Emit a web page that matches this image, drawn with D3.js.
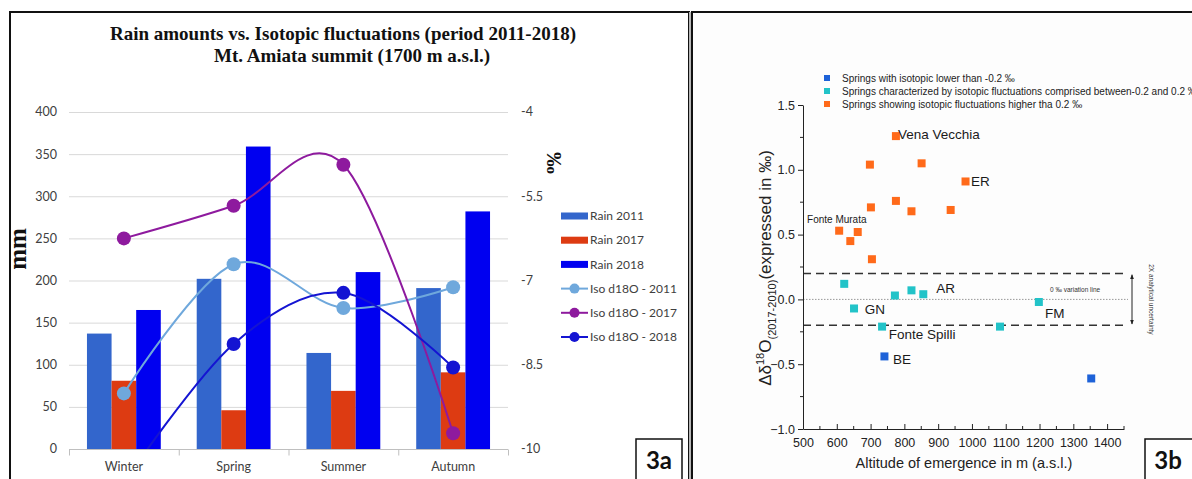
<!DOCTYPE html>
<html>
<head>
<meta http-equiv='Content-Type' content='text/html; charset=UTF-8' />
<title>Rain amounts vs. Isotopic fluctuations</title>
<script src="https://d3js.org/d3.v7.min.js"></script>
<style>
  body { margin: 0; background: #fff; }
  svg { display: block; }
</style>
</head>
<body>
<svg id="fig" width="1192" height="479"></svg>
<script>
// ---- panel 3a data
var seasons = ["Winter", "Spring", "Summer", "Autumn"];
var rain2011 = [137, 202, 114, 191];
var rain2017 = [81, 46, 69, 91];
var rain2018 = [165, 359, 210, 282];
var iso2011 = [-9.01, -6.71, -7.49, -7.12];
var iso2017 = [-6.25, -5.67, -4.94, -9.72];
var iso2018 = [-10.6, -8.13, -7.22, -8.55];
var mmTicks = [0, 50, 100, 150, 200, 250, 300, 350, 400];
var permilTicks = [-4, -5.5, -7, -8.5, -10];

// ---- panel 3b data: [altitude m, delta d18O]
var springsLow = [[741, -0.44], [1353, -0.61]];
var springsMid = [[622, 0.12], [651, -0.07], [772, 0.03], [821, 0.07], [856, 0.04],
                  [734, -0.21], [1083, -0.21], [1198, -0.02]];
var springsHigh = [[775, 1.26], [698, 1.04], [851, 1.05], [981, 0.91], [701, 0.71],
                   [775, 0.76], [821, 0.68], [937, 0.69], [607, 0.53], [640, 0.45],
                   [662, 0.52], [704, 0.31]];
var springNames = [["Vena Vecchia", 781, 1.238], ["ER", 997, 0.875], ["AR", 894, 0.05],
                   ["GN", 683, -0.113], ["FM", 1216, -0.143], ["Fonte Spilli", 754, -0.306],
                   ["BE", 766, -0.5]];
var smallNames = [["Fonte Murata", 512, 0.59]];
var altTicks = [500, 600, 700, 800, 900, 1000, 1100, 1200, 1300, 1400];
var deltaTicks = [-1.0, -0.5, 0.0, 0.5, 1.0, 1.5];
var legendB = ["Springs with isotopic lower than -0.2 \u2030",
               "Springs characterized by isotopic fluctuations comprised between-0.2 and 0.2 \u2030",
               "Springs showing isotopic fluctuations higher tha 0.2 \u2030"];

var svg = d3.select("#fig");

// panel frames
svg.append("rect").attr("x", 10).attr("y", 12).attr("width", 679).attr("height", 480)
  .attr("fill", "#fff").attr("stroke", "#111").attr("stroke-width", 2);
svg.append("rect").attr("x", 689).attr("y", 12).attr("width", 3).attr("height", 467).attr("fill", "#b8b8b8");
svg.append("rect").attr("x", 692).attr("y", 12).attr("width", 520).attr("height", 480)
  .attr("fill", "#fdfdfd").attr("stroke", "#111").attr("stroke-width", 2);

// ================= panel 3a =================
var a = svg.append("g");
var x = d3.scaleBand().domain(seasons).range([69, 508]);
var rainKeys = ["Rain 2011", "Rain 2017", "Rain 2018"];
var rainData = [rain2011, rain2017, rain2018];
var rainColors = ["#3366cc", "#dd3b12", "#0000f0"];
var xi = d3.scaleBand().domain(rainKeys).range([0, x.bandwidth()]).paddingOuter(0.73);
var yL = d3.scaleLinear().domain([0, 400]).range([449, 112]);
var yR = d3.scaleLinear().domain([-10, -4]).range([449, 112]);

a.append("text").attr("x", 343).attr("y", 40).attr("text-anchor", "middle")
  .attr("font-family", "Liberation Serif, Times New Roman, serif").attr("font-weight", "bold")
  .attr("font-size", 19).attr("fill", "#111")
  .text("Rain amounts vs. Isotopic fluctuations (period 2011-2018)");
a.append("text").attr("x", 352).attr("y", 62).attr("text-anchor", "middle")
  .attr("font-family", "Liberation Serif, Times New Roman, serif").attr("font-weight", "bold")
  .attr("font-size", 19).attr("fill", "#111")
  .text("Mt. Amiata summit (1700 m a.s.l.)");

// gridlines
a.append("g").selectAll("line").data(mmTicks.slice(1)).enter().append("line")
  .attr("x1", 69).attr("x2", 508)
  .attr("y1", function(d){ return yL(d) + 0.5; }).attr("y2", function(d){ return yL(d) + 0.5; })
  .attr("stroke", "#d9d9d9").attr("stroke-width", 1);

// left axis labels
a.append("g").selectAll("text").data(mmTicks).enter().append("text")
  .attr("x", 57).attr("y", function(d){ return yL(d); }).attr("dy", "0.35em")
  .attr("text-anchor", "end").attr("font-family", "Lato, sans-serif").attr("font-size", 12.5)
  .attr("fill", "#404040").text(function(d){ return d; });
// right axis labels
a.append("g").selectAll("text").data(permilTicks).enter().append("text")
  .attr("x", 521).attr("y", function(d){ return yR(d); }).attr("dy", "0.35em")
  .attr("text-anchor", "start").attr("font-family", "Lato, sans-serif").attr("font-size", 12.5)
  .attr("fill", "#404040").text(function(d){ return d; });

// bars
rainData.forEach(function(vals, k){
  a.append("g").attr("fill", rainColors[k]).selectAll("rect").data(vals).enter().append("rect")
    .attr("x", function(d, i){ return x(seasons[i]) + xi(rainKeys[k]); })
    .attr("width", xi.bandwidth())
    .attr("y", function(d){ return yL(d); })
    .attr("height", function(d){ return yL(0) - yL(d); });
});

// x axis
var xAxis = a.append("g").attr("transform", "translate(0,449.5)");
xAxis.append("line").attr("x1", 69).attr("x2", 508).attr("stroke", "#bfbfbf");
xAxis.selectAll("line.tk").data(seasons.concat(["end"])).enter().append("line")
  .attr("class", "tk")
  .attr("x1", function(d, i){ return 69 + i * x.step() + 0.5; })
  .attr("x2", function(d, i){ return 69 + i * x.step() + 0.5; })
  .attr("y1", 0).attr("y2", 6).attr("stroke", "#bfbfbf");
xAxis.selectAll("text").data(seasons).enter().append("text")
  .attr("x", function(d){ return x(d) + x.bandwidth() / 2; }).attr("y", 21)
  .attr("text-anchor", "middle").attr("font-family", "Lato, sans-serif").attr("font-size", 12.5)
  .attr("fill", "#404040").text(function(d){ return d; });

// iso lines
a.append("clipPath").attr("id", "plotA").append("rect")
  .attr("x", 69).attr("y", 100).attr("width", 439).attr("height", 349);
var isoKeys = ["Iso d18O - 2011", "Iso d18O - 2017", "Iso d18O - 2018"];
var isoData = [iso2011, iso2017, iso2018];
var isoColors = ["#6fa8dc", "#8e1a9e", "#1414d2"];
var line = d3.line()
  .x(function(d, i){ return x(seasons[i]) + x.bandwidth() / 2; })
  .y(function(d){ return yR(d); })
  .curve(d3.curveCardinal.tension(0));
var lines = a.append("g").attr("clip-path", "url(#plotA)");
isoData.forEach(function(vals, k){
  lines.append("path").datum(vals).attr("d", line)
    .attr("fill", "none").attr("stroke", isoColors[k]).attr("stroke-width", 2);
  lines.append("g").selectAll("circle").data(vals).enter().append("circle")
    .attr("cx", function(d, i){ return x(seasons[i]) + x.bandwidth() / 2; })
    .attr("cy", function(d){ return yR(d); })
    .attr("r", 7).attr("fill", isoColors[k]);
});

// axis titles
a.append("text").attr("transform", "translate(26,249) rotate(-90)").attr("text-anchor", "middle")
  .attr("font-family", "Liberation Serif, Times New Roman, serif").attr("font-weight", "bold")
  .attr("font-size", 25).attr("fill", "#111").text("mm");
a.append("text").attr("transform", "translate(547,163) rotate(90)").attr("text-anchor", "middle")
  .attr("font-family", "Liberation Serif, Times New Roman, serif").attr("font-weight", "bold")
  .attr("font-size", 22).attr("fill", "#111").text("\u2030");

// legend
var legA = a.append("g").attr("font-family", "Lato, sans-serif").attr("font-size", 12).attr("fill", "#404040");
var legItems = rainKeys.concat(isoKeys);
legItems.forEach(function(name, i){
  var g = legA.append("g").attr("transform", "translate(561," + (216 + i * 24.2) + ")");
  if (i < 3) {
    g.append("rect").attr("x", 0).attr("y", -3.5).attr("width", 27).attr("height", 7).attr("fill", rainColors[i]);
  } else {
    g.append("line").attr("x1", 0).attr("x2", 27).attr("stroke", isoColors[i - 3]).attr("stroke-width", 2);
    g.append("circle").attr("cx", 13.5).attr("r", 5).attr("fill", isoColors[i - 3]);
  }
  g.append("text").attr("x", 29).attr("dy", "0.35em").text(name);
});

// 3a label box
a.append("rect").attr("x", 636).attr("y", 439).attr("width", 46).attr("height", 50)
  .attr("fill", "#fff").attr("stroke", "#111").attr("stroke-width", 1.5);
a.append("text").attr("x", 659).attr("y", 469).attr("text-anchor", "middle")
  .attr("font-family", "Lato, sans-serif").attr("font-weight", "bold").attr("font-size", 24)
  .attr("fill", "#111").text("3a");

// ================= panel 3b =================
var b = svg.append("g");
var xb = d3.scaleLinear().domain([500, 1450]).range([803, 1124]);
var yb = d3.scaleLinear().domain([-1, 1.5]).range([429, 105]);
var cLow = "#1e62d8", cMid = "#22c3c8", cHigh = "#ff6a1a";

// reference lines
b.append("g").selectAll("line").data([0.2, -0.2]).enter().append("line")
  .attr("x1", 803).attr("x2", 1128)
  .attr("y1", function(d){ return yb(d); }).attr("y2", function(d){ return yb(d); })
  .attr("stroke", "#333").attr("stroke-width", 1.6).attr("stroke-dasharray", "8,5");
b.append("line").attr("x1", 803).attr("x2", 1128).attr("y1", yb(0)).attr("y2", yb(0))
  .attr("stroke", "#999").attr("stroke-width", 1).attr("stroke-dasharray", "1.5,1.5");

// axes
var yAx = b.append("g").attr("transform", "translate(803,0)")
  .call(d3.axisLeft(yb).tickValues(deltaTicks).tickFormat(d3.format(".1f")).tickSize(5).tickPadding(3));
yAx.append("g").selectAll("line").data([-0.75, -0.25, 0.25, 0.75, 1.25]).enter().append("line")
  .attr("x2", -3).attr("y1", function(d){ return yb(d); }).attr("y2", function(d){ return yb(d); })
  .attr("stroke", "#222");
var xAx = b.append("g").attr("transform", "translate(0,429)")
  .call(d3.axisBottom(xb).tickValues(altTicks).tickFormat(d3.format("d")).tickSize(-5).tickPadding(9));
xAx.append("g").selectAll("line").data(d3.range(550, 1451, 100)).enter().append("line")
  .attr("y2", -3).attr("x1", function(d){ return xb(d); }).attr("x2", function(d){ return xb(d); })
  .attr("stroke", "#222");
[yAx, xAx].forEach(function(g){
  g.selectAll("path, line").attr("stroke", "#222");
  g.selectAll("text").attr("font-family", "Liberation Sans, Arial, sans-serif")
    .attr("font-size", 12.5).attr("fill", "#222");
});
xAx.select(".domain").attr("d", "M803.5,0.5H1124.5");
yAx.select(".domain").attr("d", "M0.5,429.5V105.5");

// points
function squares(data, color, s){
  b.append("g").selectAll("rect").data(data).enter().append("rect")
    .attr("x", function(d){ return xb(d[0]) - s / 2; })
    .attr("y", function(d){ return yb(d[1]) - s / 2; })
    .attr("width", s).attr("height", s).attr("fill", color);
}
squares(springsHigh, cHigh, 8);
squares(springsMid, cMid, 8);
squares(springsLow, cLow, 8);

// point labels
b.append("g").selectAll("text").data(springNames).enter().append("text")
  .attr("x", function(d){ return xb(d[1]); }).attr("y", function(d){ return yb(d[2]); })
  .attr("font-family", "Liberation Sans, Arial, sans-serif").attr("font-size", 13.5)
  .attr("fill", "#1a1a1a").text(function(d){ return d[0]; });
b.append("g").selectAll("text").data(smallNames).enter().append("text")
  .attr("x", function(d){ return xb(d[1]); }).attr("y", function(d){ return yb(d[2]); })
  .attr("font-family", "Liberation Sans, Arial, sans-serif").attr("font-size", 10)
  .attr("fill", "#1a1a1a").text(function(d){ return d[0]; });

// variation line note, uncertainty arrow
b.append("text").attr("x", 1050).attr("y", yb(0) - 7)
  .attr("font-family", "Liberation Sans, Arial, sans-serif").attr("font-size", 6.5)
  .attr("fill", "#333").text("0 \u2030 variation line");
b.append("defs").append("marker").attr("id", "ah").attr("viewBox", "0 0 10 10")
  .attr("refX", 9).attr("refY", 5).attr("markerWidth", 5).attr("markerHeight", 6)
  .attr("orient", "auto-start-reverse")
  .append("path").attr("d", "M0,1L10,5L0,9z").attr("fill", "#222");
b.append("line").attr("x1", 1132).attr("x2", 1132).attr("y1", yb(0.19)).attr("y2", yb(-0.19))
  .attr("stroke", "#222").attr("stroke-width", 1)
  .attr("marker-start", "url(#ah)").attr("marker-end", "url(#ah)");
b.append("text").attr("transform", "translate(1149," + yb(0) + ") rotate(90)").attr("text-anchor", "middle")
  .attr("font-family", "Liberation Sans, Arial, sans-serif").attr("font-size", 6.5)
  .attr("fill", "#333").text("2X analytical uncertainty");

// axis titles
b.append("text").attr("x", 964).attr("y", 468).attr("text-anchor", "middle")
  .attr("font-family", "Liberation Sans, Arial, sans-serif").attr("font-size", 14.5)
  .attr("fill", "#222").text("Altitude of emergence in m (a.s.l.)");
var yt = b.append("text").attr("transform", "translate(771,268) rotate(-90)").attr("text-anchor", "middle")
  .attr("font-family", "Liberation Sans, Arial, sans-serif").attr("font-size", 17).attr("fill", "#222");
yt.append("tspan").text("\u0394\u03b4");
yt.append("tspan").attr("font-size", 11).attr("dy", -7).text("18");
yt.append("tspan").attr("dy", 7).text("O");
yt.append("tspan").attr("font-size", 11).attr("dy", 5).text("(2017-2010)");
yt.append("tspan").attr("dy", -5).text("(expressed in \u2030)");

// legend
var legB = b.append("g").attr("font-family", "Liberation Sans, Arial, sans-serif").attr("font-size", 10).attr("fill", "#222");
[cLow, cMid, cHigh].forEach(function(c, i){
  var g = legB.append("g").attr("transform", "translate(827," + (78 + i * 13) + ")");
  g.append("rect").attr("x", -3).attr("y", -3).attr("width", 6).attr("height", 6).attr("fill", c);
  g.append("text").attr("x", 15).attr("dy", "0.35em").text(legendB[i]);
});

// 3b label box
b.append("rect").attr("x", 1145).attr("y", 439).attr("width", 60).attr("height", 50)
  .attr("fill", "#fff").attr("stroke", "#111").attr("stroke-width", 1.5);
b.append("text").attr("x", 1168).attr("y", 469).attr("text-anchor", "middle")
  .attr("font-family", "Lato, sans-serif").attr("font-weight", "bold").attr("font-size", 24)
  .attr("fill", "#111").text("3b");
</script>
</body>
</html>
